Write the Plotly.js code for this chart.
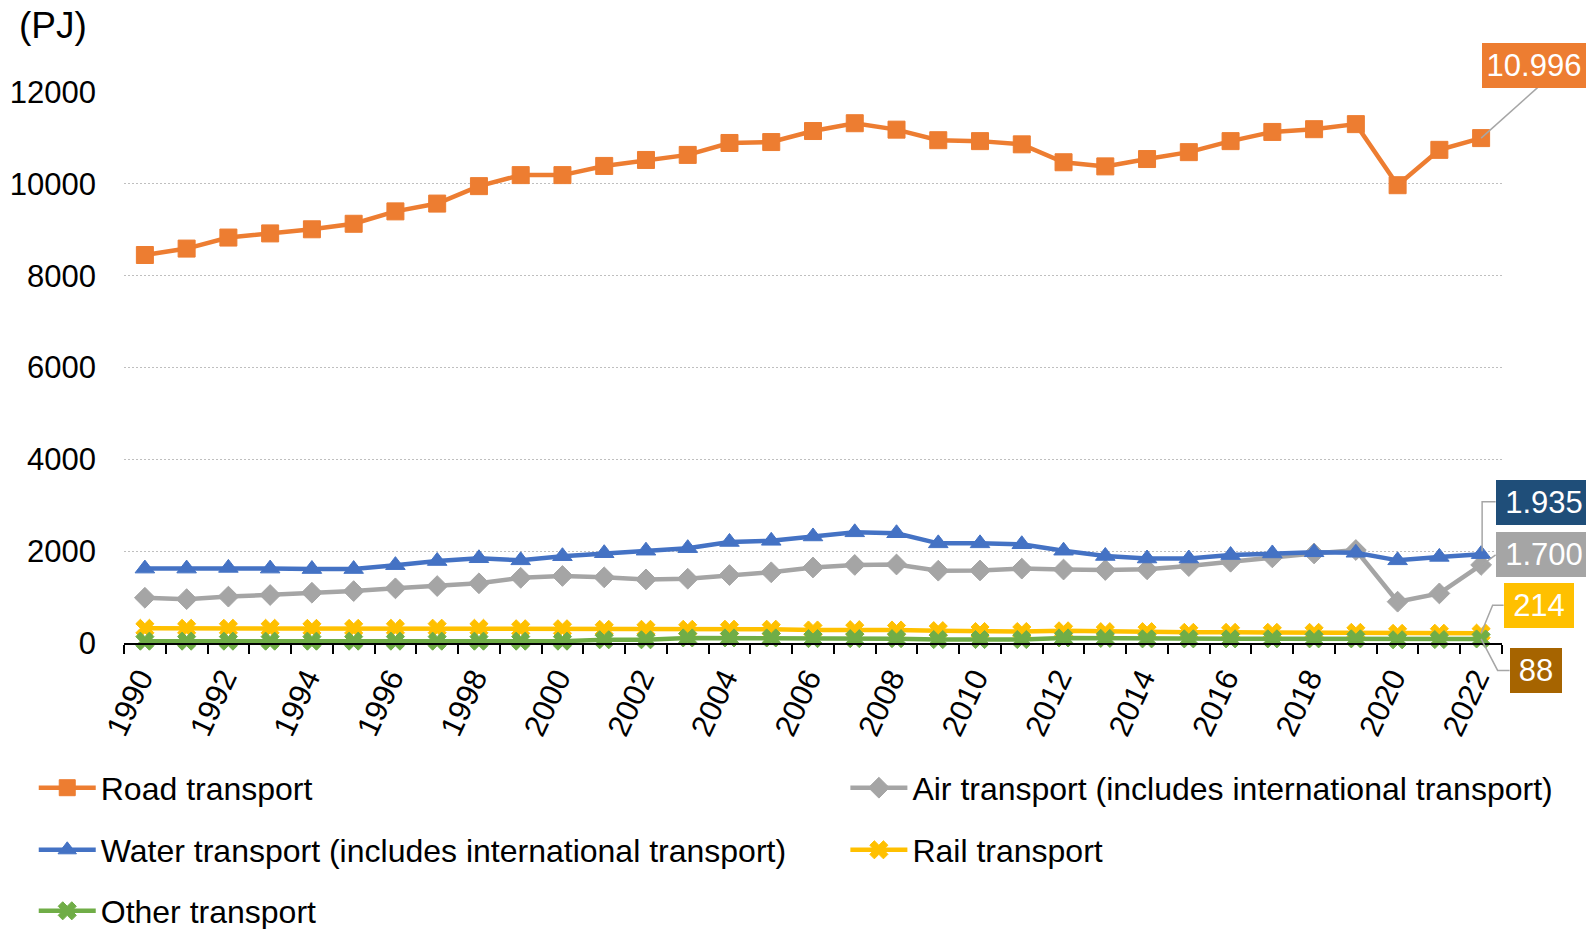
<!DOCTYPE html>
<html>
<head>
<meta charset="utf-8">
<script src="https://cdn.plot.ly/plotly-3.0.1.min.js"></script>
<style>
  html, body { margin: 0; padding: 0; background: #fff; }
  #chart { width: 1586px; height: 929px; }
</style>
</head>
<body>
<div id="chart"></div>
<script>
// ---- data (PJ) ----
const years = [1990, 1991, 1992, 1993, 1994, 1995, 1996, 1997, 1998, 1999, 2000, 2001, 2002, 2003, 2004, 2005, 2006, 2007, 2008, 2009, 2010, 2011, 2012, 2013, 2014, 2015, 2016, 2017, 2018, 2019, 2020, 2021, 2022];
const yTicks = [0, 2000, 4000, 6000, 8000, 10000, 12000];
const xTickYears = [1990, 1992, 1994, 1996, 1998, 2000, 2002, 2004, 2006, 2008, 2010, 2012, 2014, 2016, 2018, 2020, 2022];

const seriesNames = [
  "Road transport",
  "Air transport (includes international transport)",
  "Water transport (includes international transport)",
  "Rail transport",
  "Other transport"
];
const road  = [8450, 8590, 8830, 8920, 9010, 9130, 9400, 9570, 9950, 10190, 10190, 10390, 10520, 10630, 10890, 10910, 11150, 11320, 11180, 10950, 10930, 10860, 10470, 10380, 10540, 10690, 10930, 11130, 11190, 11300, 9970, 10740, 10996];
const air   = [985, 955, 1010, 1045, 1095, 1130, 1190, 1240, 1300, 1420, 1460, 1430, 1385, 1400, 1480, 1540, 1645, 1700, 1710, 1575, 1580, 1620, 1600, 1590, 1605, 1675, 1770, 1865, 1950, 2025, 900, 1080, 1700];
const water = [1620, 1620, 1635, 1620, 1610, 1610, 1695, 1785, 1845, 1800, 1890, 1955, 2010, 2065, 2200, 2225, 2320, 2410, 2390, 2170, 2170, 2150, 2010, 1895, 1840, 1840, 1915, 1950, 1975, 1965, 1800, 1875, 1935];
const rail  = [320, 320, 320, 320, 318, 318, 320, 322, 320, 310, 310, 298, 298, 298, 300, 300, 283, 290, 283, 269, 250, 250, 265, 247, 247, 232, 232, 232, 232, 232, 210, 212, 214];
const other = [40, 40, 40, 40, 40, 40, 40, 40, 40, 40, 40, 70, 70, 110, 110, 110, 95, 95, 95, 75, 75, 75, 110, 100, 90, 90, 90, 90, 90, 90, 70, 75, 88];

const endLabels = ["10.996", "1.700", "1.935", "214", "88"];

// ---- styles ----
const FONT = '"Liberation Sans", Arial, "Helvetica Neue", sans-serif';
const colors = ["#ED7D31", "#A5A5A5", "#4472C4", "#FFC000", "#70AD47"];
const symbols = ["square", "diamond", "triangle-up", "x", "x"];
const msizes = [17, 16, 17, 16, 16];
const labelBg = ["#ED7D31", "#A5A5A5", "#1F4E79", "#FFC000", "#A66400"];
const values = [road, air, water, rail, other];
const legendIds = ["legend", "legend2", "legend3", "legend4", "legend5"];

const xRange = [1989.5, 2022.5];
const yRange = [0, 12000];

const drawOrder = [1, 2, 0, 3, 4];
const traces = drawOrder.map(i => ({
  type: "scatter",
  mode: "lines+markers",
  name: seriesNames[i],
  x: years,
  y: values[i],
  legend: legendIds[i],
  cliponaxis: false,
  line: { color: colors[i], width: 4.5 },
  marker: { symbol: symbols[i], size: msizes[i], color: colors[i], line: { color: colors[i], width: 1 } },
  hoverinfo: "x+y+name"
}));

// end-of-series labels: [xshift, yshift, width]
const labelGeom = [
  [0.5, 73, 100],
  [14.5, 10, 92],
  [14.5, 52, 92],
  [22.5, 28, 66],
  [28.5, -31.5, 48]
];
const last = years.length - 1;
const annotations = [];
for (let i = 0; i < 5; i++) {
  const g = labelGeom[i];
  annotations.push({
    xref: "x", yref: "y",
    x: years[last], y: values[i][last],
    xanchor: "left", yanchor: "middle",
    xshift: g[0], yshift: g[1],
    showarrow: false,
    text: endLabels[i],
    font: { family: FONT, size: 31, color: "#ffffff" },
    bgcolor: labelBg[i],
    borderwidth: 0, borderpad: 2,
    width: g[2], height: 41, align: "center", valign: "middle"
  });
}
annotations.push({
  xref: "paper", yref: "paper",
  x: -0.0775, y: 1.12, xanchor: "left", yanchor: "middle",
  showarrow: false, text: "(PJ)",
  font: { family: FONT, size: 37, color: "#000000" }
});

// leader lines in pixel offsets from the last data point (+y up);
// anchored in paper space (derived from the axis ranges) so they are not clipped
const leaderPaths = [
  "M0,0 L57,51",
  "M14.5,10 L1,0",
  "M14.5,52.5 L1,52.5 L1,3",
  "M22.5,28 L11.5,28 L0,0",
  "M0,0 L16.5,-31.5 L28.5,-31.5"
];
const toPaperX = v => (v - xRange[0]) / (xRange[1] - xRange[0]);
const toPaperY = v => (v - yRange[0]) / (yRange[1] - yRange[0]);
const shapes = leaderPaths.map((p, i) => ({
  type: "path", xref: "paper", yref: "paper",
  xsizemode: "pixel", ysizemode: "pixel",
  xanchor: toPaperX(years[last]), yanchor: toPaperY(values[i][last]),
  path: p,
  line: { color: "#A6A6A6", width: 1.5 }
}));

// legends (one per entry to match the two-column layout)
const legendPos = [
  [-0.0655, -0.263],
  [0.5235, -0.263],
  [-0.0655, -0.3757],
  [0.5235, -0.3757],
  [-0.0655, -0.4864]
];
const layout = {
  width: 1586, height: 929,
  margin: { l: 124, r: 84, t: 92, b: 286, autoexpand: false },
  paper_bgcolor: "#ffffff", plot_bgcolor: "#ffffff",
  font: { family: FONT, size: 31, color: "#000000" },
  showlegend: true,
  xaxis: {
    type: "linear",
    range: xRange,
    tickmode: "array",
    tickvals: xTickYears,
    ticktext: xTickYears.map(String),
    tickangle: -65,
    ticks: "",
    ticklabelstandoff: 3,
    ticklabelshift: -5,
    tickfont: { family: FONT, size: 31, color: "#000000" },
    showgrid: false, zeroline: false,
    showline: true, linecolor: "#000000", linewidth: 1.5,
    minor: { tickmode: "linear", tick0: 1989.5, dtick: 1, ticks: "outside", ticklen: 9, tickwidth: 1.5, tickcolor: "#000000", showgrid: false },
    automargin: false,
    fixedrange: true
  },
  yaxis: {
    range: yRange,
    tickmode: "array",
    tickvals: yTicks,
    ticktext: yTicks.map(String),
    ticks: "",
    ticklabelstandoff: 27,
    tickfont: { family: FONT, size: 31, color: "#000000" },
    showgrid: true, gridcolor: "#BFBFBF", gridwidth: 1, griddash: "2px,2px",
    zeroline: false, showline: false,
    automargin: false,
    fixedrange: true
  },
  annotations: annotations,
  shapes: shapes
};
legendIds.forEach((id, i) => {
  layout[id] = {
    x: legendPos[i][0], y: legendPos[i][1],
    xanchor: "left", yanchor: "middle",
    orientation: "v",
    bgcolor: "rgba(0,0,0,0)",
    borderwidth: 0,
    itemwidth: 57,
    font: { family: FONT, size: 32, color: "#000000" }
  };
});

Plotly.newPlot("chart", traces, layout, { displayModeBar: false });
</script>
</body>
</html>
